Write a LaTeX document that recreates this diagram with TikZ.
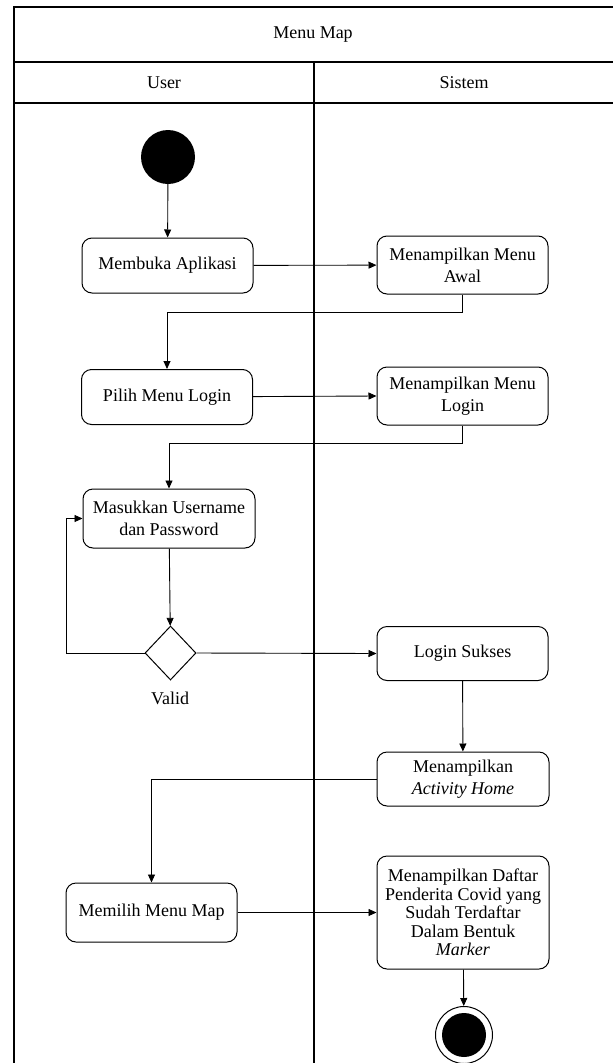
\documentclass[tikz,border=0pt]{standalone}
\usepackage{fontspec}
\setmainfont{Liberation Serif}
\usetikzlibrary{arrows.meta,shapes.geometric}
\begin{document}
\begin{tikzpicture}[x=1pt,y=-1pt,
  every node/.style={font=\fontsize{18}{22}\selectfont},
  act/.style={draw,line width=1pt,rounded corners=10pt,minimum width=171pt,align=center,inner sep=0pt},
  arr/.style={line width=0.9pt,-{Triangle[length=8pt,width=7pt]}},
  frame/.style={line width=1.3pt}]
\useasboundingbox (0,0) rectangle (613,1063);
% frame
\draw[frame] (614,7) -- (14,7) -- (14,1064);
\draw[frame] (14,62) -- (614,62);
\draw[frame] (14,103) -- (614,103);
\draw[frame] (314,62) -- (314,1064);
\node (title) at (313,35) {Menu Map};
\node (laneu) at (164,83) {User};
\node (lanes) at (464,83) {Sistem};
% nodes
\node[circle,fill=black,minimum size=54pt,inner sep=0pt] (start) at (168,157) {};
\node[act,minimum height=55pt] (a1) at (167.5,265.5) {Membuka Aplikasi};
\node[act,minimum height=58pt] (s1) at (462.5,265) {Menampilkan Menu\\Awal};
\node[act,minimum height=55pt] (a2) at (167,397) {Pilih Menu Login};
\node[act,minimum height=58pt] (s2) at (462.5,396) {Menampilkan Menu\\Login};
\node[act,minimum height=59pt,minimum width=172pt] (a3) at (169,518.5) {Masukkan Username\\dan Password};
\node[diamond,draw,line width=1pt,minimum width=51pt,minimum height=54pt,inner sep=0pt] (d) at (170.5,653) {};
\node (valid) at (170,698) {Valid};
\node[act,minimum height=54pt] (s3) at (462.5,653.5) {Login Sukses};
\node[act,minimum height=54pt,minimum width=172pt] (s4) at (463,779) {Menampilkan\\\textit{Activity Home}};
\node[act,minimum height=59pt] (a4) at (151.5,912.5) {Memilih Menu Map};
\node[act,minimum height=113pt,minimum width=172pt,font=\fontsize{18}{18.5}\selectfont] (s5) at (463,912.5) {Menampilkan Daftar\\Penderita Covid yang\\Sudah Terdaftar\\Dalam Bentuk\\\textit{Marker}};
\node[circle,draw,line width=1pt,fill=white,minimum size=57pt,inner sep=0pt] (endo) at (464,1035) {};
\node[circle,fill=black,minimum size=44pt,inner sep=0pt] (endi) at (464,1035) {};
% connectors
\draw[arr] (start) -- (a1);
\draw[arr] (a1) -- (s1);
\draw[arr] (s1.south) -- ++(0,18) -| (a2.north);
\draw[arr] (a2) -- (s2.west);
\draw[arr] (s2.south) -- ++(0,18) -| (a3.north);
\draw[arr] (a3) -- (d);
\draw[arr] (d.west) -- ++(-78,0) |- (a3.west);
\draw[arr] (d.east) -- (s3.west);
\draw[arr] (s3) -- (s4);
\draw[arr] (s4.west) -| (a4.north);
\draw[arr] (a4) -- (s5);
\draw[arr] (s5) -- (endo);
\end{tikzpicture}
\end{document}
